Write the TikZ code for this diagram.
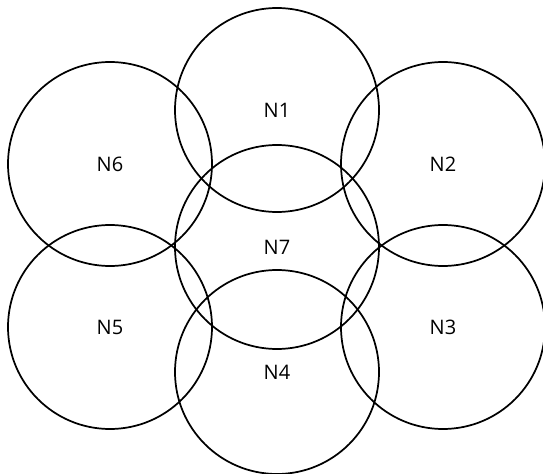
\documentclass[tikz,border=0pt]{standalone}
\usepackage{fontspec}
\setmainfont{Open Sans}
\begin{document}
\begin{tikzpicture}[x=0.75pt, y=-0.75pt]  % 坐标按像素给出

    \tikzset{cell/.style={circle, draw, line width=1.3pt, minimum size=153pt,
        inner sep=0pt, font=\fontsize{15}{17}\selectfont}}

    % 画布大小
    \useasboundingbox (0,0) rectangle (543,474);

    % 中间一列
    \node[cell] (n1) at (277,110) {N1};
    \node[cell] (n7) at (277,247) {N7};
    \node[cell] (n4) at (277,372) {N4};

    % 左右两列
    \node[cell] (n6) at (110,164) {N6};
    \node[cell] (n5) at (110,327) {N5};
    \node[cell] (n2) at (443,164) {N2};
    \node[cell] (n3) at (443,327) {N3};

\end{tikzpicture}
\end{document}
